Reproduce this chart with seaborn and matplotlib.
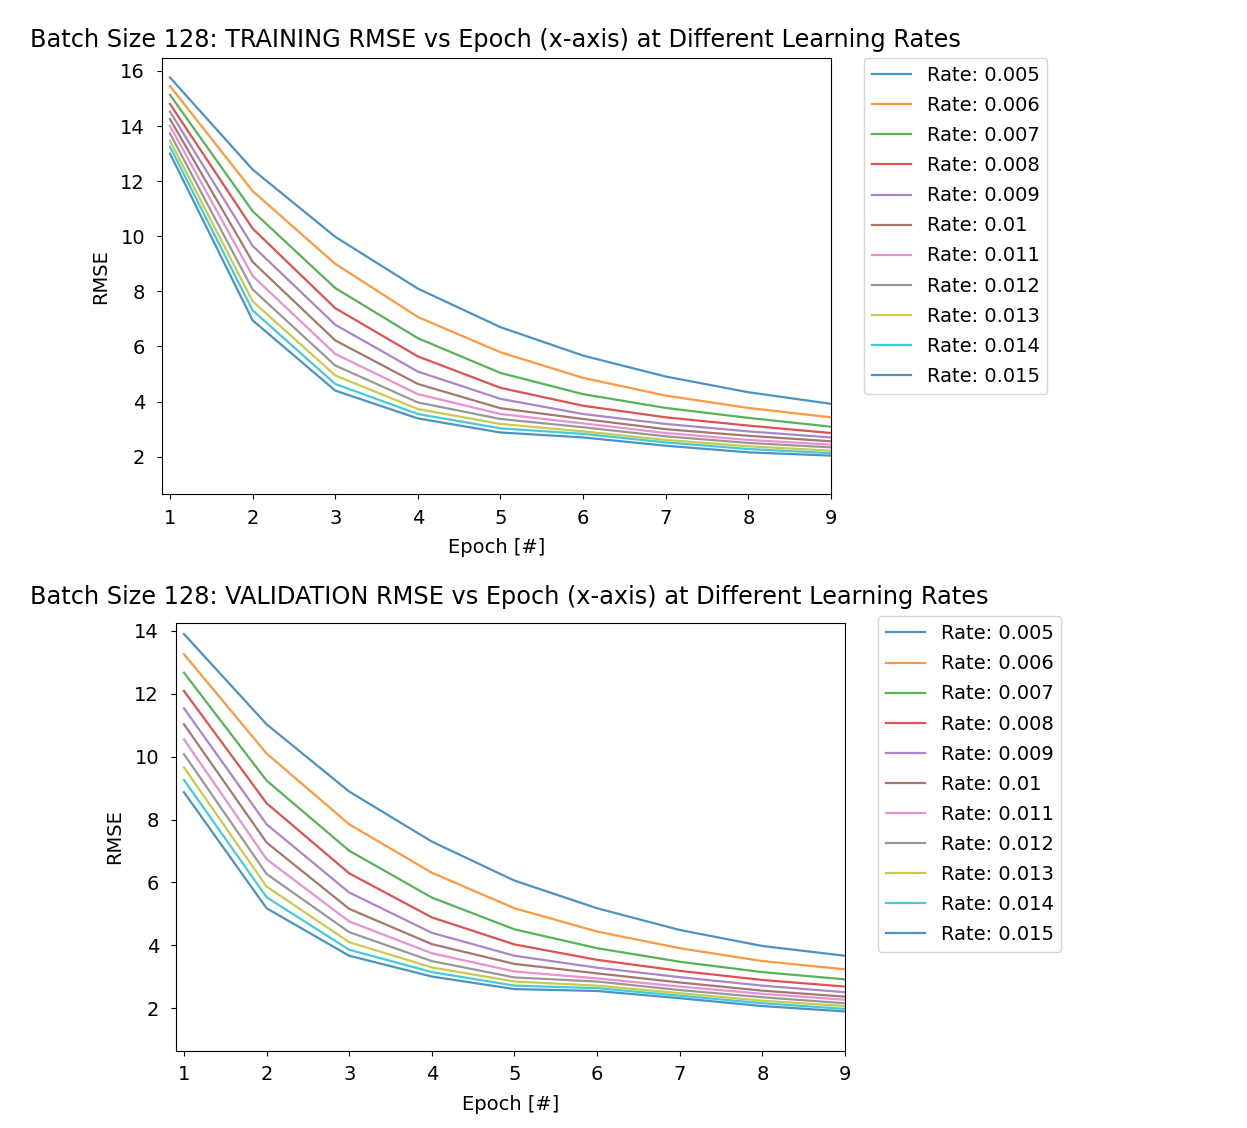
import matplotlib
matplotlib.use("Agg")
import matplotlib.pyplot as plt
import numpy as np
import pandas as pd
import seaborn as sns

epochs = [1, 2, 3, 4, 5, 6, 7, 8, 9]
rates = [0.005, 0.006, 0.007, 0.008, 0.009, 0.01, 0.011, 0.012, 0.013, 0.014, 0.015]

# one row per learning rate, values read per epoch
train_rmse = [
    [15.76, 12.42, 9.98, 8.10, 6.70, 5.67, 4.91, 4.34, 3.92],
    [15.45, 11.64, 9.00, 7.07, 5.79, 4.86, 4.22, 3.77, 3.43],
    [15.13, 10.91, 8.12, 6.30, 5.04, 4.27, 3.77, 3.41, 3.09],
    [14.80, 10.28, 7.39, 5.64, 4.50, 3.85, 3.43, 3.13, 2.86],
    [14.52, 9.65, 6.79, 5.09, 4.10, 3.55, 3.19, 2.92, 2.70],
    [14.25, 9.07, 6.22, 4.64, 3.76, 3.37, 3.00, 2.76, 2.56],
    [14.00, 8.56, 5.73, 4.27, 3.55, 3.21, 2.86, 2.61, 2.44],
    [13.73, 8.07, 5.31, 3.97, 3.37, 3.07, 2.74, 2.50, 2.34],
    [13.47, 7.64, 4.95, 3.73, 3.19, 2.92, 2.61, 2.38, 2.22],
    [13.25, 7.31, 4.64, 3.55, 3.03, 2.83, 2.52, 2.28, 2.13],
    [13.00, 6.95, 4.40, 3.39, 2.88, 2.70, 2.40, 2.16, 2.04],
]

val_rmse = [
    [13.90, 11.03, 8.89, 7.30, 6.06, 5.18, 4.49, 3.98, 3.67],
    [13.26, 10.10, 7.85, 6.31, 5.18, 4.44, 3.91, 3.50, 3.24],
    [12.67, 9.24, 7.01, 5.52, 4.51, 3.91, 3.48, 3.15, 2.92],
    [12.09, 8.52, 6.29, 4.89, 4.03, 3.54, 3.19, 2.90, 2.69],
    [11.54, 7.85, 5.68, 4.40, 3.67, 3.29, 2.99, 2.72, 2.51],
    [11.03, 7.27, 5.16, 4.04, 3.41, 3.11, 2.82, 2.56, 2.37],
    [10.55, 6.74, 4.76, 3.75, 3.17, 2.95, 2.69, 2.46, 2.27],
    [10.08, 6.27, 4.42, 3.50, 2.98, 2.85, 2.58, 2.35, 2.16],
    [9.66, 5.87, 4.10, 3.30, 2.85, 2.72, 2.48, 2.24, 2.07],
    [9.26, 5.53, 3.86, 3.15, 2.72, 2.64, 2.40, 2.16, 1.98],
    [8.87, 5.18, 3.67, 3.01, 2.61, 2.55, 2.32, 2.07, 1.90],
]


def to_long(values):
    rows = []
    for rate, series in zip(rates, values):
        for ep, v in zip(epochs, series):
            rows.append({"Epoch": ep, "RMSE": v, "Rate": f"Rate: {rate:g}"})
    return pd.DataFrame(rows)


labels = [f"Rate: {r:g}" for r in rates]
tab = sns.color_palette("tab10")
palette = [tab[i % 10] for i in range(len(rates))]

plt.rcParams["font.size"] = 14
fig = plt.figure(figsize=(12.47, 11.28), dpi=100)

# name, data, axes rect, ylim, title x, title pad, legend anchor y
panels = [
    ("TRAINING", train_rmse, [0.1297, 0.5621, 0.5367, 0.3863], (0.65, 16.46), -0.197, 8, 1.0),
    ("VALIDATION", val_rmse, [0.1409, 0.0685, 0.5367, 0.3789], (0.65, 14.24), -0.2177, 14, 1.016),
]

for name, values, rect, ylim, tx, tpad, ly in panels:
    ax = fig.add_axes(rect)
    df = to_long(values)
    sns.lineplot(data=df, x="Epoch", y="RMSE", hue="Rate", hue_order=labels,
                 palette=palette, alpha=0.8, linewidth=1.6, ax=ax)
    ax.set_xlim(0.9, 9)
    ax.set_ylim(*ylim)
    ax.set_xticks(epochs)
    ax.tick_params(axis="x", pad=7)
    ax.tick_params(axis="y", pad=8.5)
    ax.set_xlabel("Epoch [#]", labelpad=7.5)
    ax.set_ylabel("RMSE", labelpad=7)
    ax.set_title(f"Batch Size 128: {name} RMSE vs Epoch (x-axis) at Different Learning Rates",
                 fontsize=17.3, loc="left", x=tx, pad=tpad)
    sns.move_legend(ax, "upper left", bbox_to_anchor=(1.05, ly), title=None,
                    frameon=True, borderaxespad=0.0, labelspacing=0.57)

fig.savefig("out.png", dpi=100)
